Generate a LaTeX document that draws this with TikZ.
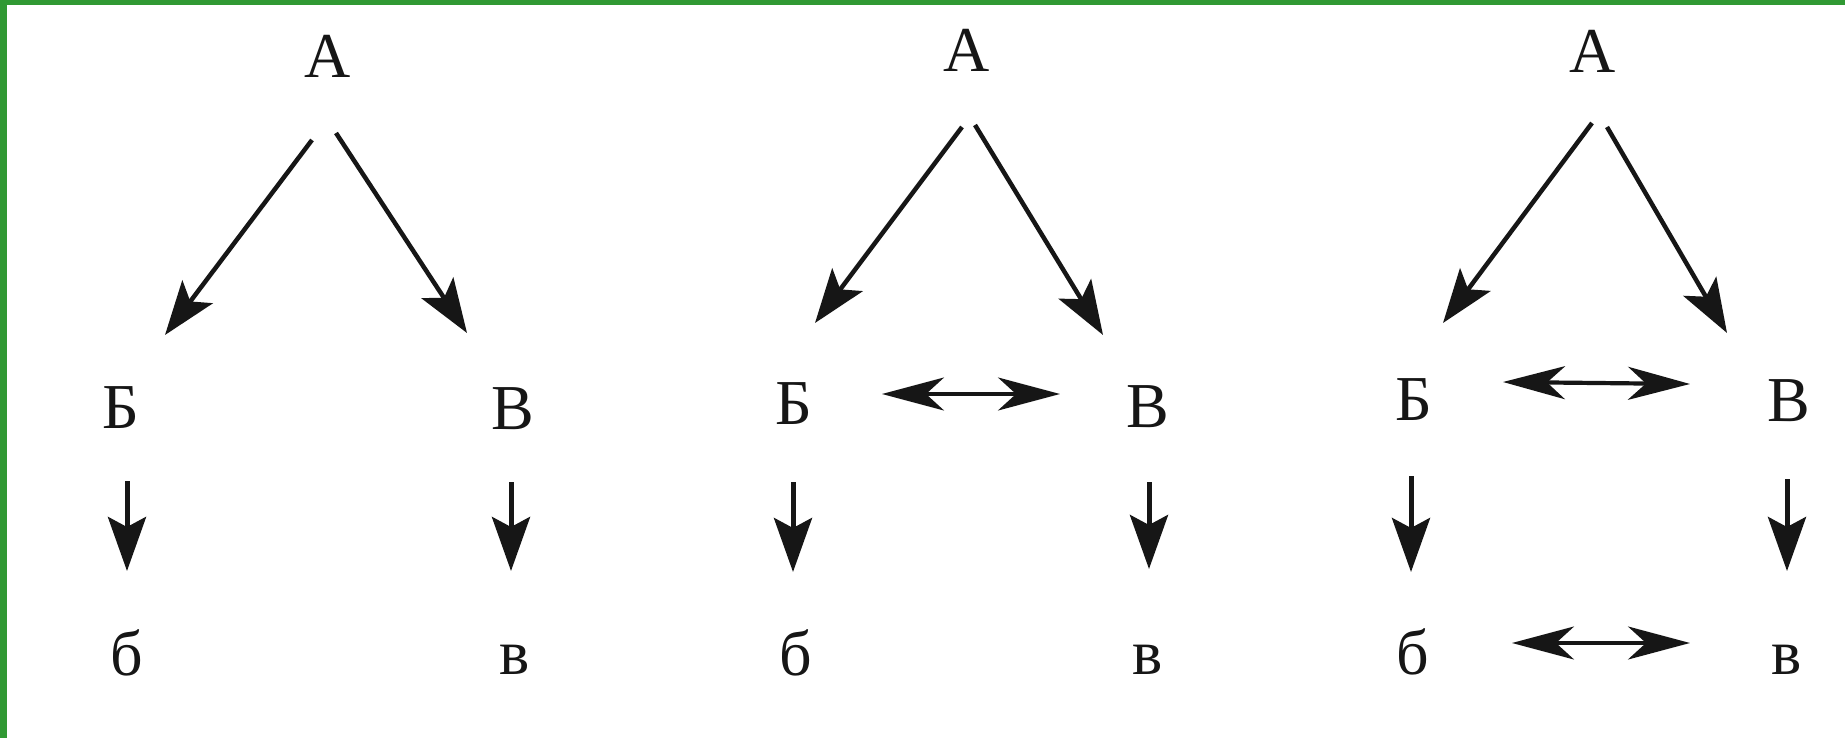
\documentclass[tikz,border=0pt]{standalone}
\usepackage{fontspec}
\setmainfont{Liberation Serif}
\usetikzlibrary{arrows.meta}
\definecolor{frame}{RGB}{48,153,51}
\definecolor{ink}{RGB}{22,22,22}
\tikzset{
  lbl/.style={inner sep=0pt, text=ink, font=\fontsize{64}{72}\selectfont},
  arr/.style={draw=ink, line width=4.5pt, -{Stealth[length=54pt,width=38pt,inset=12pt]}},
  varr/.style={draw=ink, line width=5pt, -{Stealth[length=54pt,width=38pt,inset=10pt]}},
  darr/.style={draw=ink, line width=3.2pt, {Stealth[length=62pt,width=33pt,inset=18pt]}-{Stealth[length=62pt,width=33pt,inset=18pt]}}
}
\begin{document}
\begin{tikzpicture}[x=1pt,y=-1pt]
\useasboundingbox (0,0) rectangle (1845,738);
\fill[white] (0,0) rectangle (1845,738);
\fill[frame] (0,0) rectangle (1845,5);
\fill[frame] (0,0) rectangle (7,738);
% panel 1
\node[lbl] (A1) at (328,56) {А};
\node[lbl] (B1) at (121,408) {Б};
\node[lbl] (V1) at (513,409) {В};
\node[lbl] (b1) at (127,653) {б};
\node[lbl] (v1) at (515,660) {в};
\draw[arr] ([shift={(-16,84)}]A1.center) -- ([shift={(44,-73)}]B1.center);
\draw[arr] ([shift={(8,77)}]A1.center) -- ([shift={(-46,-76)}]V1.center);
\draw[varr] ([shift={(6,73)}]B1.center) -- ([shift={(0,-82)}]b1.center);
\draw[varr] ([shift={(-2,73)}]V1.center) -- ([shift={(-4,-89)}]v1.center);
% panel 2
\node[lbl] (A2) at (967,50) {А};
\node[lbl] (B2) at (794,404) {Б};
\node[lbl] (V2) at (1148,407) {В};
\node[lbl] (b2) at (796,653) {б};
\node[lbl] (v2) at (1148,660) {в};
\draw[arr] ([shift={(-5,77)}]A2.center) -- ([shift={(21,-81)}]B2.center);
\draw[arr] ([shift={(8,75)}]A2.center) -- ([shift={(-45,-72)}]V2.center);
\draw[darr] ([shift={(88,-10)}]B2.center) -- ([shift={(-88,-13)}]V2.center);
\draw[varr] ([shift={(-1,78)}]B2.center) -- ([shift={(-3,-81)}]b2.center);
\draw[varr] ([shift={(1,75)}]V2.center) -- ([shift={(1,-91)}]v2.center);
% panel 3
\node[lbl] (A3) at (1593,51) {А};
\node[lbl] (B3) at (1414,400) {Б};
\node[lbl] (V3) at (1789,401) {В};
\node[lbl] (b3) at (1413,652) {б};
\node[lbl] (v3) at (1787,660) {в};
\draw[arr] ([shift={(-1,72)}]A3.center) -- ([shift={(29,-77)}]B3.center);
\draw[arr] ([shift={(14,76)}]A3.center) -- ([shift={(-62,-68)}]V3.center);
\draw[darr, line width=4.2pt] ([shift={(89,-18)}]B3.center) -- ([shift={(-99,-17)}]V3.center);
\draw[varr] ([shift={(-3,76)}]B3.center) -- ([shift={(-2,-80)}]b3.center);
\draw[varr] ([shift={(-2,78)}]V3.center) -- ([shift={(0,-89)}]v3.center);
\draw[darr] ([shift={(99,-9)}]b3.center) -- ([shift={(-97,-17)}]v3.center);
\end{tikzpicture}
\end{document}
